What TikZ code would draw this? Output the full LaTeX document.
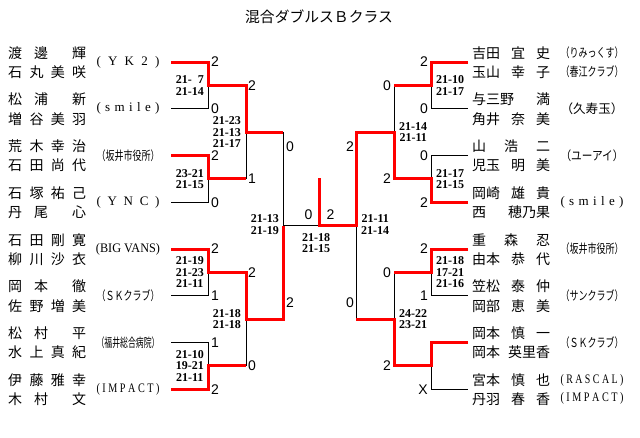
\documentclass[tikz,border=0pt]{standalone}
\usepackage{fontspec}
\usepackage{graphicx}
\usepackage{tikz}
\setmainfont{Liberation Serif}
\newfontfamily\jp{Noto Sans CJK JP}
\newfontfamily\gothic{Liberation Sans}
\newcommand{\nm}[1]{\makebox[78pt][l]{#1}}
\newcommand{\tm}[1]{\makebox[63pt][l]{#1}}
\newcommand{\tn}[1]{\resizebox{63pt}{\height}{\jp\fontsize{12.5}{14}\selectfont #1}}

\begin{document}
\begin{tikzpicture}[x = 1pt, y = -1pt,
        player/.style = {anchor = west, inner sep = 0, align = left, font = \jp\fontsize{14}{19.3}\selectfont},
        club/.style = {inner sep = 0, font = \fontsize{13}{15}\selectfont},
        score/.style = {inner sep = 0, font = \gothic\fontsize{14}{14}\selectfont},
        games/.style = {inner sep = 0, align = center, font = \bfseries\fontsize{12}{11.5}\selectfont},
        win/.style = {draw = red, line width = 3pt},
        lose/.style = {draw, line width = 0.8pt}]
        \useasboundingbox (0, 0) rectangle (640, 437);
        \node[font = \jp\fontsize{14.8}{16}\selectfont] (title) at (319, 17) {混合ダブルスＢクラス};

        \node[player] (l1) at (8, 62.5) {\nm{渡\hfill 邊\hfill\hfill 輝}\\\nm{石\hfill 丸\hfill 美\hfill 咲}};
        \node[player] (l2) at (8, 109.25) {\nm{松\hfill 浦\hfill\hfill 新}\\\nm{増\hfill 谷\hfill 美\hfill 羽}};
        \node[player] (l3) at (8, 156) {\nm{荒\hfill 木\hfill 幸\hfill 治}\\\nm{石\hfill 田\hfill 尚\hfill 代}};
        \node[player] (l4) at (8, 202.75) {\nm{石\hfill 塚\hfill 祐\hfill 己}\\\nm{丹\hfill 尾\hfill\hfill 心}};
        \node[player] (l5) at (8, 249.5) {\nm{石\hfill 田\hfill 剛\hfill 寛}\\\nm{柳\hfill 川\hfill 沙\hfill 衣}};
        \node[player] (l6) at (8, 296.25) {\nm{岡\hfill 本\hfill\hfill 徹}\\\nm{佐\hfill 野\hfill 増\hfill 美}};
        \node[player] (l7) at (8, 343) {\nm{松\hfill 村\hfill\hfill 平}\\\nm{水\hfill 上\hfill 真\hfill 紀}};
        \node[player] (l8) at (8, 389.75) {\nm{伊\hfill 藤\hfill 雅\hfill 幸}\\\nm{木\hfill 村\hfill\hfill 文}};

        \node[club] (lc1) at (128, 62) {\tm{(\hfill Y\hfill K\hfill 2\hfill)}};
        \node[club] (lc2) at (128, 108.75) {\tm{(\hfill s\hfill m\hfill i\hfill l\hfill e\hfill)}};
        \node[club] (lc3) at (128, 155.5) {\tn{（坂井市役所）}};
        \node[club] (lc4) at (128, 202.25) {\tm{(\hfill Y\hfill N\hfill C\hfill)}};
        \node[club] (lc5) at (128, 249) {\resizebox{64pt}{\height}{(BIG VANS)}};
        \node[club] (lc6) at (128, 295.75) {\tn{（ＳＫクラブ）}};
        \node[club] (lc7) at (128, 342.5) {\tn{（福井総合病院）}};
        \node[club] (lc8) at (128, 389.25) {\resizebox{63pt}{\height}{( I M P A C T )}};

        \node[player] (r1) at (472, 62.5) {\nm{吉田\hfill 宜\hfill 史}\\\nm{玉山\hfill 幸\hfill 子}};
        \node[player] (r2) at (472, 109.25) {\nm{与三野\hfill 満}\\\nm{角井\hfill 奈\hfill 美}};
        \node[player] (r3) at (472, 156) {\nm{山\hfill 浩\hfill 二}\\\nm{児玉\hfill 明\hfill 美}};
        \node[player] (r4) at (472, 202.75) {\nm{岡崎\hfill 雄\hfill 貴}\\\nm{西\hfill 穂乃果}};
        \node[player] (r5) at (472, 249.5) {\nm{重\hfill 森\hfill 忍}\\\nm{由本\hfill 恭\hfill 代}};
        \node[player] (r6) at (472, 296.25) {\nm{笠松\hfill 泰\hfill 仲}\\\nm{岡部\hfill 恵\hfill 美}};
        \node[player] (r7) at (472, 343) {\nm{岡本\hfill 慎\hfill 一}\\\nm{岡本\hfill 英里香}};
        \node[player] (r8) at (472, 389.75) {\nm{宮本\hfill 慎\hfill 也}\\\nm{丹羽\hfill 春\hfill 香}};

        \node[club] (rc1) at (592, 53) {\tn{（りみっくす）}};
        \node[club] (rc2) at (592, 72) {\tn{（春江クラブ）}};
        \node[club] (rc3) at (592, 108.75) {\tn{（久寿玉）}};
        \node[club] (rc4) at (592, 155.5) {\tn{（ユーアイ）}};
        \node[club] (rc5) at (592, 202.25) {\tm{(\hfill s\hfill m\hfill i\hfill l\hfill e\hfill)}};
        \node[club] (rc6) at (592, 249) {\tn{（坂井市役所）}};
        \node[club] (rc7) at (592, 295.75) {\tn{（サンクラブ）}};
        \node[club] (rc8) at (592, 342.5) {\tn{（ＳＫクラブ）}};
        \node[club] (rc9) at (592, 380) {\resizebox{63pt}{\height}{( R A S C A L )}};
        \node[club] (rc10) at (592, 398.5) {\resizebox{63pt}{\height}{( I M P A C T )}};

        \draw[lose] (171, 62) -| (208, 108.75) -- (171, 108.75) (208, 85.375) -| (246, 178.875) -- (208, 178.875);
        \draw[lose] (171, 155.5) -| (208, 202.25) -- (171, 202.25) (246, 132.125) -| (283, 319.125) -- (246, 319.125);
        \draw[lose] (171, 249) -| (208, 295.75) -- (171, 295.75) (208, 272.375) -| (246, 365.875) -- (208, 365.875);
        \draw[lose] (171, 342.5) -| (208, 389.25) -- (171, 389.25) (283, 225.625) -- (356, 225.625);
        \draw[lose] (468, 62) -| (431, 108.75) -- (468, 108.75) (431, 85.375) -| (394, 178.875) -- (431, 178.875);
        \draw[lose] (468, 155.5) -| (431, 202.25) -- (468, 202.25) (394, 132.125) -| (356, 319.125) -- (394, 319.125);
        \draw[lose] (468, 249) -| (431, 295.75) -- (468, 295.75) (431, 272.375) -| (394, 365.875) -- (431, 365.875);
        \draw[lose] (468, 342.5) -| (431, 389.25) -- (468, 389.25);

        \draw[win] (171, 62) -| (208, 85.375) -| (246, 132.125) -- (283, 132.125);
        \draw[win] (171, 155.5) -| (208, 178.875) -- (246, 178.875);
        \draw[win] (171, 249) -| (208, 272.375) -| (246, 319.125) -| (283, 225.625);
        \draw[win] (171, 389.25) -| (208, 365.875) -- (246, 365.875);
        \draw[win] (468, 62) -| (431, 85.375) -- (394, 85.375);
        \draw[win] (468, 202.25) -| (431, 178.875) -| (394, 132.125) -| (356, 225.625) -| (319, 178);
        \draw[win] (468, 249) -| (431, 272.375) -- (394, 272.375);
        \draw[win] (468, 342.5) -| (431, 365.875) -| (394, 319.125) -- (356, 319.125);

        \node[score, anchor = west] (s1) at (211, 62) {2};
        \node[score, anchor = west] (s2) at (211, 108.75) {0};
        \node[score, anchor = west] (s3) at (211, 155.5) {2};
        \node[score, anchor = west] (s4) at (211, 202.25) {0};
        \node[score, anchor = west] (s5) at (211, 249) {2};
        \node[score, anchor = west] (s6) at (211, 295.75) {1};
        \node[score, anchor = west] (s7) at (211, 342.5) {1};
        \node[score, anchor = west] (s8) at (211, 389.25) {2};
        \node[score, anchor = west] (s9) at (248, 85.375) {2};
        \node[score, anchor = west] (s10) at (248, 178.875) {1};
        \node[score, anchor = west] (s11) at (248, 272.375) {2};
        \node[score, anchor = west] (s12) at (248, 365.875) {0};
        \node[score, anchor = west] (s13) at (286, 147) {0};
        \node[score, anchor = west] (s14) at (286, 303) {2};
        \node[score] (s15) at (308.5, 215) {0};
        \node[score] (s16) at (330.5, 215) {2};
        \node[score, anchor = east] (s17) at (354, 147) {2};
        \node[score, anchor = east] (s18) at (354, 303) {0};
        \node[score, anchor = east] (s19) at (391, 85.375) {0};
        \node[score, anchor = east] (s20) at (391, 178.875) {2};
        \node[score, anchor = east] (s21) at (391, 272.375) {0};
        \node[score, anchor = east] (s22) at (391, 365.875) {2};
        \node[score, anchor = east] (s23) at (428, 62) {2};
        \node[score, anchor = east] (s24) at (428, 108.75) {0};
        \node[score, anchor = east] (s25) at (428, 155.5) {0};
        \node[score, anchor = east] (s26) at (428, 202.25) {2};
        \node[score, anchor = east] (s27) at (428, 249) {2};
        \node[score, anchor = east] (s28) at (428, 295.75) {1};
        \node[score, anchor = east] (s29) at (428, 389.25) {X};

        \node[games, anchor = east] (g1) at (204, 85.375) {21-\phantom{1}7\\21-14};
        \node[games, anchor = east] (g2) at (204, 178.875) {23-21\\21-15};
        \node[games, anchor = east] (g3) at (204, 272.375) {21-19\\21-23\\21-11};
        \node[games, anchor = east] (g4) at (204, 365.875) {21-10\\19-21\\21-11};
        \node[games, anchor = east] (g5) at (241, 132.125) {21-23\\21-13\\21-17};
        \node[games, anchor = east] (g6) at (241, 319.125) {21-18\\21-18};
        \node[games, anchor = east] (g7) at (279, 224.5) {21-13\\21-19};
        \node[games] (g8) at (316, 243) {21-18\\21-15};
        \node[games, anchor = west] (g9) at (361, 224.5) {21-11\\21-14};
        \node[games, anchor = west] (g10) at (399, 132.125) {21-14\\21-11};
        \node[games, anchor = west] (g11) at (399, 319.125) {24-22\\23-21};
        \node[games, anchor = west] (g12) at (436, 85.375) {21-10\\21-17};
        \node[games, anchor = west] (g13) at (436, 178.875) {21-17\\21-15};
        \node[games, anchor = west] (g14) at (436, 272.375) {21-18\\17-21\\21-16};
    \end{tikzpicture}
\end{document}
